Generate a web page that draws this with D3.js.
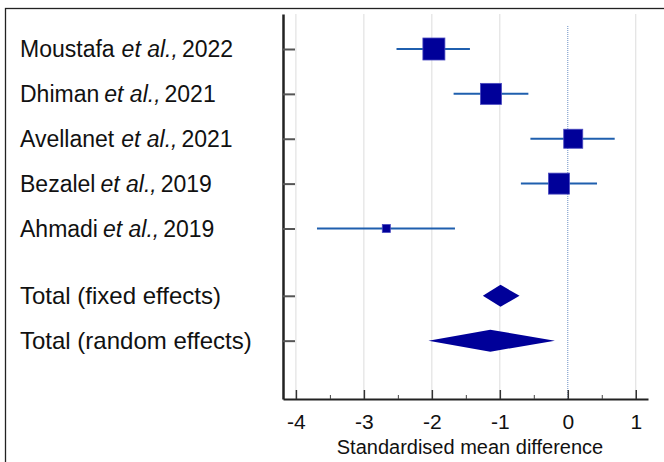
<!DOCTYPE html>
<html><head><meta charset="utf-8">
<script src="https://cdn.jsdelivr.net/npm/d3@7"></script>
<style>body{margin:0;background:#fff}svg{display:block}</style>
</head><body>
<svg id="c" width="664" height="462"></svg>
<script>
const studies = ["Moustafa", "Dhiman", "Avellanet", "Bezalel", "Ahmadi"];
const years = ["2022", "2021", "2021", "2019", "2019"];
const smd = [-1.97, -1.13, 0.08, -0.13, -2.67];
const ciLow = [-2.52, -1.68, -0.55, -0.69, -3.69];
const ciHigh = [-1.44, -0.58, 0.69, 0.43, -1.66];
const weights = [27.0, 24.6, 20.2, 24.6, 3.6];
const totalLabels = ["Total (fixed effects)", "Total (random effects)"];
const totalEst = [-0.99, -1.14];
const totalLow = [-1.25, -2.05];
const totalHigh = [-0.71, -0.19];
const xTicks = [-4, -3, -2, -1, 0, 1];
const xMinorTicks = [-3.5, -2.5, -1.5, -0.5, 0.5];
const axisTitle = "Standardised mean difference";

const svg = d3.select("#c");
const font = "Liberation Sans, Arial, sans-serif";
const x = d3.scaleLinear().domain([-4.19, 1.18]).range([283, 648]);
const y = d3.scaleLinear().domain([-0.78, 7.8]).range([14, 399]);
const studyRows = studies.map((d, i) => i);
const totalRows = [5.5, 6.5];
const size = d3.scaleSqrt().domain([0, 27]).range([0, 22]);

// frame
svg.append("rect").attr("x", 5.5).attr("y", 8.5).attr("width", 700).attr("height", 500)
  .attr("fill", "none").attr("stroke", "#222").attr("stroke-width", 1.3);

// gridlines
svg.append("g").selectAll("line").data(xTicks.filter(d => d !== 0)).join("line")
  .attr("x1", d => x(d)).attr("x2", d => x(d)).attr("y1", y.range()[0]).attr("y2", y.range()[1])
  .attr("stroke", "#dcdcdc").attr("stroke-width", 1);
svg.append("line").attr("x1", x(0)).attr("x2", x(0)).attr("y1", y.range()[0] + 12).attr("y2", y.range()[1])
  .attr("stroke", "#6a8fc4").attr("stroke-width", 1).attr("stroke-dasharray", "1,1");

// axes
const gx = svg.append("g").attr("transform", `translate(0,${y.range()[1]})`)
  .call(d3.axisBottom(x).tickValues(xTicks).tickFormat(d3.format("d")).tickSizeInner(-9).tickSizeOuter(0).tickPadding(15));
gx.select(".domain").attr("stroke", "#222").attr("stroke-width", 2);
gx.selectAll(".tick line").attr("stroke", "#333").attr("stroke-width", 1.5);
gx.selectAll("text").attr("font-family", font).attr("font-size", 21).attr("fill", "#111")
  .text(d => d < 0 ? "-" + Math.abs(d) : d);
const gxm = svg.append("g").attr("transform", `translate(0,${y.range()[1]})`)
  .call(d3.axisBottom(x).tickValues(xMinorTicks).tickFormat("").tickSizeInner(-4).tickSizeOuter(0));
gxm.select(".domain").remove();
gxm.selectAll(".tick line").attr("stroke", "#444").attr("stroke-width", 1);

const gy = svg.append("g").attr("transform", `translate(${x.range()[0]},0)`)
  .call(d3.axisLeft(y).tickValues(studyRows.concat(totalRows)).tickFormat("").tickSizeInner(-12).tickSizeOuter(0));
gy.select(".domain").attr("stroke", "#222").attr("stroke-width", 2.5);
gy.selectAll(".tick line").attr("stroke", "#555").attr("stroke-width", 2);

svg.append("text").attr("x", 470).attr("y", 454)
  .attr("text-anchor", "middle").attr("font-family", font)
  .attr("font-size", 20).attr("fill", "#111").text(axisTitle);

// labels
const narrow = [false, true, false, true, true];
studies.forEach((s, i) => {
  const t = svg.append("text").attr("x", 20).attr("y", y(i)).attr("dy", "0.36em")
    .attr("font-family", font).attr("font-size", 23).attr("fill", "#111");
  t.append("tspan").text(s);
  t.append("tspan").attr("dx", narrow[i] ? 5 : 7).attr("font-style", "italic").text("et al.,");
  t.append("tspan").attr("dx", 4).text(years[i]);
});
totalLabels.forEach((s, i) => {
  svg.append("text").attr("x", 20).attr("y", y(totalRows[i])).attr("dy", "0.36em")
    .attr("font-family", font).attr("font-size", 24).attr("fill", "#111").text(s);
});

// CI lines
svg.append("g").selectAll("line").data(studyRows).join("line")
  .attr("x1", i => x(ciLow[i])).attr("x2", i => x(ciHigh[i]))
  .attr("y1", i => y(i)).attr("y2", i => y(i))
  .attr("stroke", "#1f5fae").attr("stroke-width", 2);

// squares
svg.append("g").selectAll("rect").data(studyRows).join("rect")
  .attr("x", i => x(smd[i]) - size(weights[i]) / 2)
  .attr("y", i => y(i) - size(weights[i]) / 2)
  .attr("width", i => size(weights[i])).attr("height", i => size(weights[i]))
  .attr("fill", "#000099").attr("stroke", "#4a4ac0").attr("stroke-width", 0.8);

// diamonds
const dh = 11;
svg.append("g").selectAll("path").data([0, 1]).join("path")
  .attr("d", i => {
    const yy = y(totalRows[i]);
    return `M${x(totalLow[i])},${yy}L${x(totalEst[i])},${yy - dh}L${x(totalHigh[i])},${yy}L${x(totalEst[i])},${yy + dh}Z`;
  })
  .attr("fill", "#000099");
</script>
</body></html>
